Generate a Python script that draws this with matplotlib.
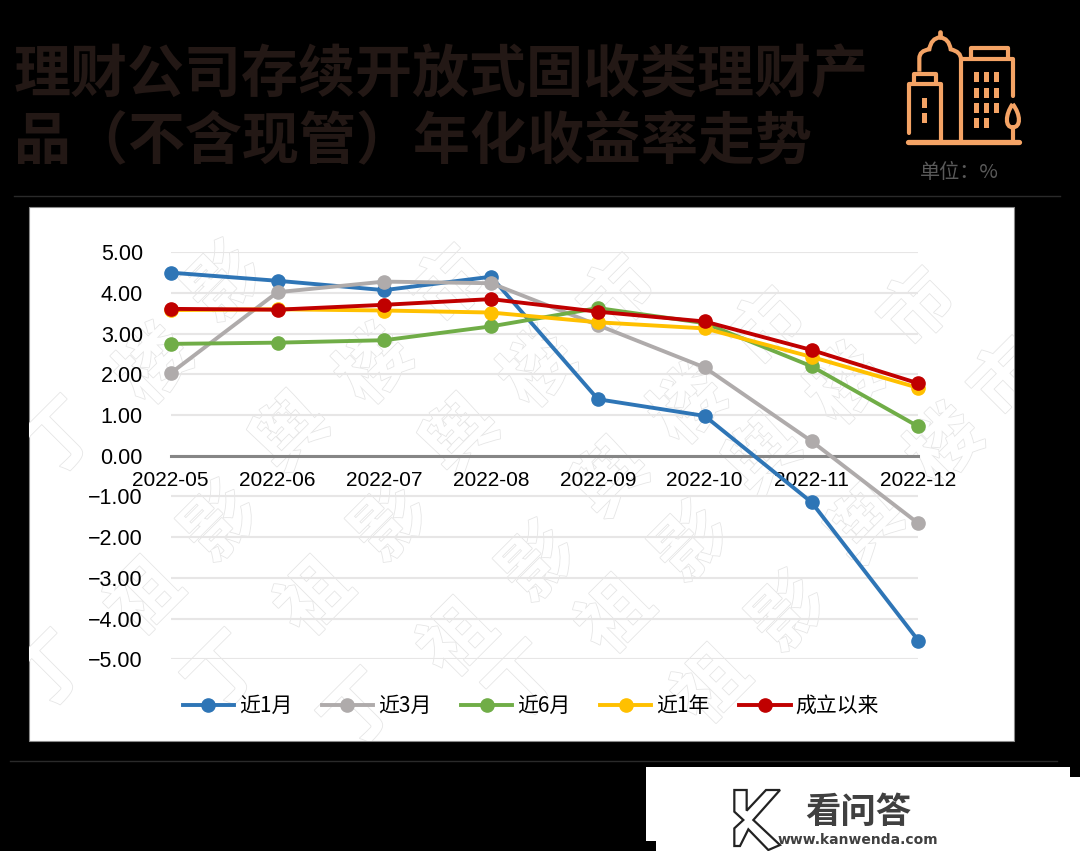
import matplotlib
matplotlib.use("Agg")
import matplotlib.pyplot as plt
from matplotlib.patches import Polygon, Rectangle, PathPatch
from matplotlib.path import Path
import matplotlib.patheffects as pe

plt.rcParams["font.family"] = ["Noto Sans CJK SC", "DejaVu Sans"]

# Data
months = ["2022-05", "2022-06", "2022-07", "2022-08",
          "2022-09", "2022-10", "2022-11", "2022-12"]
m1 = [4.50, 4.30, 4.07, 4.40, 1.39, 0.98, -1.14, -4.54]
m3 = [2.03, 4.02, 4.28, 4.24, 3.21, 2.17, 0.36, -1.66]
m6 = [2.75, 2.78, 2.84, 3.18, 3.63, 3.26, 2.20, 0.72]
y1 = [3.58, 3.60, 3.57, 3.52, 3.28, 3.13, 2.43, 1.67]
since = [3.61, 3.59, 3.71, 3.85, 3.54, 3.30, 2.60, 1.78]
y_ticks = [5, 4, 3, 2, 1, 0, -1, -2, -3, -4, -5]
y_labels = ["5.00", "4.00", "3.00", "2.00", "1.00", "0.00",
            "−1.00", "−2.00", "−3.00", "−4.00", "−5.00"]

# Colors
c_icon = "#F4A365"
c_title = "#231815"
c_rule = "#2A2A2A"

W, H = 1080, 851
fig = plt.figure(figsize=(W / 100, H / 100), dpi=100, facecolor="black")

# Background layer in pixel coordinates
bg = fig.add_axes([0, 0, 1, 1], zorder=0)
bg.set_xlim(0, W)
bg.set_ylim(H, 0)
bg.axis("off")

bg.text(14, 75, "理财公司存续开放式固收类理财产", fontsize=41, fontweight="bold",
        color=c_title, ha="left", va="center")
bg.text(14, 142, "品（不含现管）年化收益率走势", fontsize=41, fontweight="bold",
        color=c_title, ha="left", va="center")
bg.text(959, 172, "单位：%", fontsize=14.5, color="#5A5A5A", ha="center", va="center")

bg.plot([14, 1060], [196, 196], color=c_rule, lw=1)
bg.plot([10, 1057], [761, 761], color=c_rule, lw=1)


# === Icon, coordinates taken from a 3x crop ===
def ix(x):
    return 895 + x / 3


def iy(y):
    return 20 + y / 3


def icon_line(pts, lw=3.0):
    bg.plot([ix(p[0]) for p in pts], [iy(p[1]) for p in pts], color=c_icon, lw=lw,
            solid_capstyle="round", solid_joinstyle="round")


icon_line([(40, 365), (372, 365)], lw=3.8)
icon_line([(42, 338), (42, 192), (137, 192), (137, 365)])
icon_line([(57, 192), (57, 162), (122, 162), (122, 192)])
icon_line([(198, 365), (198, 118), (355, 118), (355, 228)])
icon_line([(228, 118), (228, 85), (340, 85), (340, 118)])
icon_line([(135, 36), (135, 52)], lw=3.4)
icon_line([(353, 322), (353, 365)])

dome = [(73, 155), (73, 115), (73, 92), (103, 88), (108, 55), (135, 52),
        (162, 55), (167, 88), (198, 95), (198, 118)]
codes = [Path.MOVETO, Path.LINETO] + [Path.CURVE3] * 8
bg.add_patch(PathPatch(Path([(ix(x), iy(y)) for x, y in dome], codes),
                       fc="none", ec=c_icon, lw=3.0))
tree = [(353, 252), (330, 285), (330, 322), (353, 322),
        (378, 322), (378, 285), (353, 252)]
tree_codes = [Path.MOVETO] + [Path.CURVE4] * 6
bg.add_patch(PathPatch(Path([(ix(x), iy(y)) for x, y in tree], tree_codes),
                       fc="none", ec=c_icon, lw=3.0))

windows = [(82, 233), (82, 280)]
for cx in (237, 268, 298):
    for cy in (156, 203, 249, 295):
        if cx == 298 and cy == 295:
            continue
        windows.append((cx, cy))
for wx, wy in windows:
    bg.add_patch(Rectangle((ix(wx), iy(wy)), 5, 10, fc=c_icon, ec="none"))

# === White chart panel and watermark ===
panel = Rectangle((29, 207), 985, 534, fc="white", ec="#8A8A8A", lw=0.8)
bg.add_patch(panel)

watermark = [
    ("丁", 62, 440), ("丁", 52, 674), ("丁", 226, 674), ("丁", 362, 712), ("丁", 527, 684),
    ("楼", 156, 367), ("楼", 376, 367), ("楼", 540, 370), ("楼", 690, 407), ("楼", 847, 387), ("楼", 947, 447),
    ("影", 226, 284), ("影", 222, 524), ("影", 392, 524), ("影", 540, 564), ("影", 693, 544), ("影", 790, 614),
    ("市", 452, 287), ("市", 620, 297), ("市", 770, 330), ("市", 920, 310), ("市", 1010, 380),
    ("舆", 292, 434), ("舆", 462, 437), ("舆", 612, 480), ("舆", 765, 457), ("舆", 867, 527),
    ("祖", 146, 599), ("祖", 316, 599), ("祖", 459, 640), ("祖", 617, 617), ("祖", 713, 687),
]
for ch, x, y in watermark:
    t = bg.text(x, y, ch, fontsize=52, fontweight="bold", color="white", rotation=45,
                ha="center", va="center",
                path_effects=[pe.withStroke(linewidth=1.2, foreground="#E6E6E6")])
    t.set_clip_on(True)
    t.set_clip_path(panel)

# === White corner with logo ===
bg.add_patch(Polygon([(646, 767), (1070, 767), (1070, 777), (1080, 777), (1080, 851),
                      (656, 851), (656, 841), (646, 841)], closed=True, fc="white", ec="none"))
k_shape = [(283, 150), (320, 150), (320, 212), (378, 150), (420, 150), (340, 240),
           (420, 315), (385, 330), (325, 268), (300, 318), (283, 318), (283, 265), (310, 240), (283, 215)]
bg.add_patch(Polygon([(640 + x / 3, 740 + y / 3) for x, y in k_shape], closed=True,
                     fc="white", ec="#222222", lw=1.6))
bg.text(858, 812, "看问答", fontsize=25.5, fontweight="bold", color="#404040",
        ha="center", va="center")
bg.text(858, 840.5, "www.kanwenda.com", fontsize=10, fontweight="bold", color="#404040",
        ha="center", va="center", family="DejaVu Sans")

# === Line chart ===
ax = fig.add_axes([170.7 / W, 1 - 659.3 / H, 747.6 / W, 407 / H], zorder=1)
ax.patch.set_alpha(0)

# spine position resets the ticks, so it comes before the tick setup
for side in ("left", "right", "top"):
    ax.spines[side].set_visible(False)
ax.spines["bottom"].set_position(("data", 0))
ax.spines["bottom"].set_color("#868686")
ax.spines["bottom"].set_linewidth(2.2)

series = [
    ("近1月", m1, "#2E75B6"),
    ("近3月", m3, "#AFABAB"),
    ("近6月", m6, "#70AD47"),
    ("近1年", y1, "#FFC000"),
    ("成立以来", since, "#C00000"),
]
xs = range(len(months))
for label, vals, color in series:
    ax.plot(xs, vals, color=color, lw=2.8, marker="o", ms=9.5, label=label,
            clip_on=False, zorder=3)

ax.set_xlim(0, len(months) - 1)
ax.set_ylim(-5, 5)
ax.set_yticks(y_ticks)
ax.set_yticklabels(y_labels, fontsize=15.5, family="Liberation Sans")
ax.set_xticks(list(xs))
ax.set_xticklabels(months, fontsize=15, family="Liberation Sans")
ax.tick_params(axis="y", length=0, pad=20)
ax.tick_params(axis="x", length=0, pad=11)
ax.grid(axis="y", color="#E7E6E6", lw=1.5)
ax.set_axisbelow(True)

ax.legend(loc="center", bbox_to_anchor=(531 / W, 1 - 706 / H), bbox_transform=fig.transFigure,
          ncol=5, frameon=False, fontsize=15, handlelength=2.45, handletextpad=0.25,
          columnspacing=1.42, borderpad=0)

fig.savefig("out.png", dpi=100, facecolor="black")
plt.close()
